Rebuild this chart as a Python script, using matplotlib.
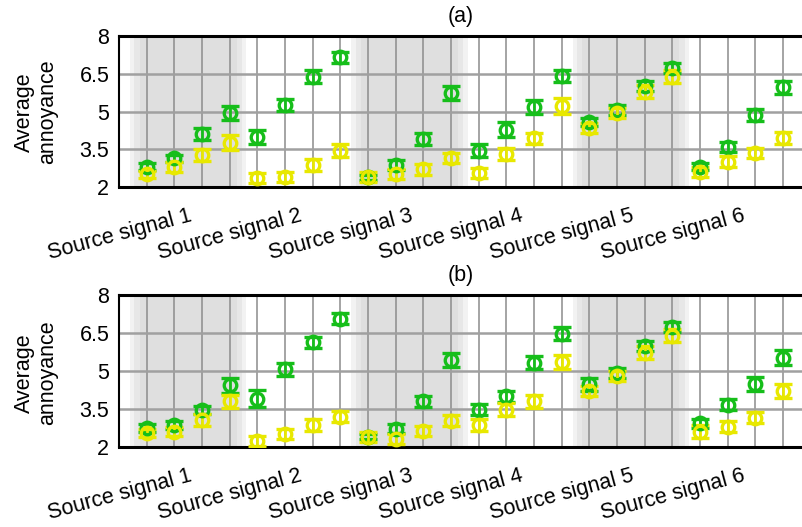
import numpy as np
import matplotlib
matplotlib.use("Agg")
import matplotlib.pyplot as plt

plt.rcParams['font.family'] = ['Liberation Sans', 'DejaVu Sans']

signals = ['Source signal 1', 'Source signal 2', 'Source signal 3',
           'Source signal 4', 'Source signal 5', 'Source signal 6']
yticks = [2, 3.5, 5, 6.5, 8]

# panel (a)
a_green = [2.81, 3.14, 4.11, 4.93, 3.97, 5.26, 6.38, 7.15,
           2.39, 2.87, 3.90, 5.72, 3.44, 4.27, 5.17, 6.41,
           4.58, 5.06, 6.01, 6.72, 2.81, 3.60, 4.86, 5.96]
a_green_err = [0.15, 0.15, 0.25, 0.28, 0.28, 0.25, 0.25, 0.22,
               0.10, 0.20, 0.25, 0.28, 0.25, 0.30, 0.28, 0.22,
               0.15, 0.20, 0.20, 0.20, 0.15, 0.20, 0.25, 0.25]
a_yellow = [2.50, 2.81, 3.27, 3.76, 2.35, 2.39, 2.87, 3.44,
            2.39, 2.50, 2.70, 3.17, 2.57, 3.31, 3.94, 5.22,
            4.36, 4.95, 5.79, 6.38, 2.61, 3.01, 3.36, 3.94]
a_yellow_err = [0.15, 0.20, 0.25, 0.30, 0.20, 0.20, 0.25, 0.25,
                0.20, 0.20, 0.22, 0.20, 0.20, 0.22, 0.22, 0.30,
                0.20, 0.20, 0.25, 0.25, 0.20, 0.22, 0.20, 0.25]

# panel (b)
b_green = [2.75, 2.87, 3.47, 4.44, 3.91, 5.07, 6.13, 7.07,
           2.40, 2.73, 3.80, 5.43, 3.47, 4.00, 5.33, 6.47,
           4.47, 4.93, 6.00, 6.73, 2.93, 3.67, 4.49, 5.53]
b_green_err = [0.15, 0.15, 0.15, 0.29, 0.35, 0.25, 0.22, 0.20,
               0.10, 0.18, 0.22, 0.28, 0.22, 0.22, 0.25, 0.25,
               0.25, 0.20, 0.20, 0.20, 0.18, 0.22, 0.28, 0.28]
b_yellow = [2.55, 2.60, 3.07, 3.80, 2.23, 2.53, 2.87, 3.20,
            2.40, 2.33, 2.63, 3.03, 2.87, 3.47, 3.80, 5.37,
            4.20, 4.80, 5.73, 6.40, 2.60, 2.80, 3.16, 4.20]
b_yellow_err = [0.15, 0.18, 0.25, 0.25, 0.20, 0.20, 0.22, 0.22,
                0.20, 0.20, 0.20, 0.22, 0.22, 0.25, 0.25, 0.28,
                0.20, 0.20, 0.25, 0.25, 0.25, 0.22, 0.22, 0.28]

green = '#16be1a'
yellow = '#e8e800'
x = np.arange(1, 25)


def draw_panel(ax, title, g, ge, yv, ye):
    # soft gray bands behind signals 1, 3 and 5
    for c in [2.5, 10.5, 18.5]:
        for w, a in [(2.1, 0.25), (1.95, 0.3), (1.75, 0.3)]:
            ax.axvspan(c - w, c + w, color='#cfcfcf', alpha=a, lw=0, zorder=0)

    ax.set_xticks(x, minor=True)
    ax.grid(which='minor', axis='x', color='#8c8c8c', lw=1.1, zorder=1)
    ax.grid(which='major', axis='y', color='#a0a0a0', lw=1.8, zorder=1)
    ax.grid(which='major', axis='x', visible=False)

    for vals, errs, col in [(g, ge, green), (yv, ye, yellow)]:
        ax.errorbar(x, vals, yerr=errs, fmt='o', mfc='none', mec=col,
                    ecolor=col, ms=9, mew=2.4, elinewidth=2,
                    capsize=6.5, capthick=3.2, zorder=3)

    ax.set_xlim(0, 24.72)
    ax.set_ylim(2, 8)
    ax.set_yticks(yticks)
    ax.set_yticklabels(['2', '3.5', '5', '6.5', '8'], fontsize=15.5)
    ax.set_xticks([2.5 + 4 * i for i in range(6)])
    ax.set_xticklabels(signals, fontsize=15.5, rotation=15, ha='right',
                       va='top', rotation_mode='anchor')
    ax.tick_params(axis='both', which='both', length=0)
    ax.tick_params(axis='x', pad=13)
    ax.tick_params(axis='y', pad=7)
    for s in ['top', 'bottom']:
        ax.spines[s].set_linewidth(2.2)
    ax.spines['left'].set_linewidth(1.5)
    ax.spines['right'].set_visible(False)
    ax.set_title(title, fontsize=15.5, pad=10)


fig = plt.figure(figsize=(8.03, 5.27), dpi=100)
ax_a = fig.add_axes([119 / 803, 1 - 187 / 527, 684 / 803, 151 / 527])
ax_b = fig.add_axes([119 / 803, 1 - 447 / 527, 684 / 803, 152 / 527])

draw_panel(ax_a, '(a)', a_green, a_green_err, a_yellow, a_yellow_err)
draw_panel(ax_b, '(b)', b_green, b_green_err, b_yellow, b_yellow_err)

fig.text(36 / 803, 1 - 112 / 527, 'Average\nannoyance', rotation=90,
         ha='center', va='center', fontsize=15.5, linespacing=1.1)
fig.text(36 / 803, 1 - 373 / 527, 'Average\nannoyance', rotation=90,
         ha='center', va='center', fontsize=15.5, linespacing=1.1)

fig.savefig('out.png', dpi=100)
